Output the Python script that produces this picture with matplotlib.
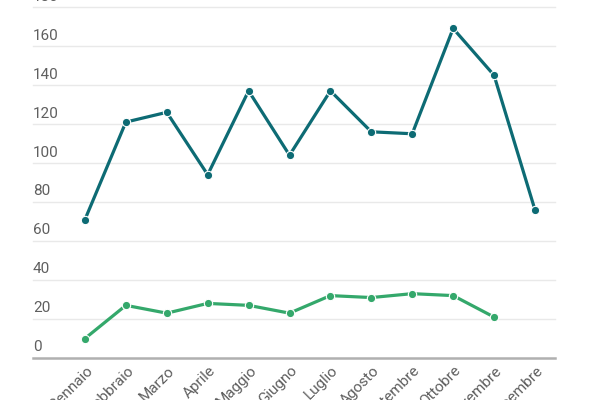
import matplotlib
matplotlib.use("Agg")
import matplotlib.pyplot as plt
import matplotlib.transforms as mtransforms

plt.rcParams['font.family'] = ['Roboto', 'DejaVu Sans']

months = ["Gennaio", "Febbraio", "Marzo", "Aprile", "Maggio", "Giugno",
          "Luglio", "Agosto", "Settembre", "Ottobre", "Novembre", "Dicembre"]
serie_a = [71, 121, 126, 94, 137, 104, 137, 116, 115, 169, 145, 76]
serie_b = [10, 27, 23, 28, 27, 23, 32, 31, 33, 32, 21]
y_ticks = [0, 20, 40, 60, 80, 100, 120, 140, 160, 180]

teal = "#0d6b74"
green = "#34a86b"
label_col = "#5f5f5f"

fig = plt.figure(figsize=(6, 4), dpi=100)
ax = fig.add_axes([0.055, 0.105, 0.87, 0.895])

ax.plot(range(len(serie_a)), serie_a, color=teal, lw=2.3, marker='o', ms=6,
        mec='white', mew=0.8, zorder=3, solid_capstyle='round')
ax.plot(range(len(serie_b)), serie_b, color=green, lw=2.3, marker='o', ms=6,
        mec='white', mew=0.8, zorder=3, solid_capstyle='round')

ax.set_xlim(-1.27, 11.49)
ax.set_ylim(0, 183.6)

# gridlines and y labels above them
for v in y_ticks:
    if v == 0:
        ax.axhline(v, color="#b0b0b0", lw=1.8, zorder=2, clip_on=False)
    else:
        ax.axhline(v, color="#e9e9e9", lw=1, zorder=1, clip_on=False)
    ax.text(0, v + 1.8, str(v), transform=ax.get_yaxis_transform(),
            ha='left', va='bottom', fontsize=11, color=label_col, clip_on=False)

ax.set_yticks([])
ax.set_xticks(range(len(months)))
ax.set_xticklabels(months, rotation=45, ha='right', rotation_mode='anchor',
                   fontsize=11, color=label_col)
ax.tick_params(axis='x', length=0, pad=4)
offset = mtransforms.ScaledTranslation(0.5 / 72, 0, fig.dpi_scale_trans)
for lab in ax.get_xticklabels():
    lab.set_transform(lab.get_transform() + offset)

for s in ax.spines.values():
    s.set_visible(False)

fig.savefig("out.png", dpi=100)
